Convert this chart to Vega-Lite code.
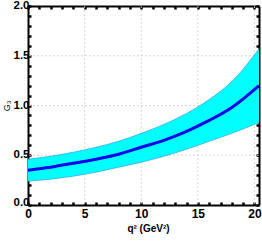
{
  "$schema": "https://vega.github.io/schema/vega-lite/v6.json",
  "autosize": "none",
  "width": 231,
  "height": 199,
  "padding": {"left": 28, "top": 6, "right": 3, "bottom": 40},
  "background": "white",
  "config": {
    "view": {"stroke": null},
    "axis": {"labelFont": "Liberation Sans Narrow, Liberation Sans, Arial", "labelFontWeight": "bold", "labelFontSize": 12, "labelColor": "black", "domainColor": "black", "domainWidth": 2, "tickColor": "black", "tickWidth": 2.5, "tickSize": -3, "grid": false, "titleFont": "Liberation Sans Narrow, Liberation Sans, Arial", "titleColor": "black"}
  },
  "datasets": {
    "band": [
      {"q2": 0, "c": 0.35, "lo": 0.24, "hi": 0.46},
      {"q2": 2, "c": 0.38, "lo": 0.26, "hi": 0.49},
      {"q2": 4, "c": 0.42, "lo": 0.29, "hi": 0.53},
      {"q2": 6, "c": 0.46, "lo": 0.33, "hi": 0.58},
      {"q2": 8, "c": 0.51, "lo": 0.38, "hi": 0.64},
      {"q2": 10, "c": 0.58, "lo": 0.43, "hi": 0.72},
      {"q2": 12, "c": 0.65, "lo": 0.49, "hi": 0.81},
      {"q2": 14, "c": 0.74, "lo": 0.56, "hi": 0.92},
      {"q2": 16, "c": 0.85, "lo": 0.64, "hi": 1.06},
      {"q2": 18, "c": 0.98, "lo": 0.72, "hi": 1.24},
      {"q2": 20.4, "c": 1.2, "lo": 0.83, "hi": 1.57}
    ],
    "gridx": [{"v": 5}, {"v": 10}, {"v": 15}, {"v": 20}],
    "gridy": [{"v": 0.5}, {"v": 1.0}, {"v": 1.5}]
  },
  "resolve": {"axis": {"x": "independent", "y": "independent"}},
  "layer": [
    {
      "data": {"name": "gridx"},
      "mark": {"type": "rule", "color": "#cccccc", "strokeDash": [2, 2], "strokeWidth": 0.8},
      "encoding": {
        "x": {"field": "v", "type": "quantitative", "scale": {"domain": [0, 20.4], "nice": false, "zero": false},
          "axis": {"orient": "bottom", "values": [0,1,2,3,4,5,6,7,8,9,10,11,12,13,14,15,16,17,18,19,20], "labelExpr": "datum.value % 5 == 0 ? datum.label : ''", "labelPadding": 6, "title": "q² (GeV²)", "titleFontSize": 10, "titleFontWeight": "bold", "titlePadding": 4, "titleX": 120, "labelFlush": false, "labelOverlap": false}}
      }
    },
    {
      "data": {"name": "gridy"},
      "mark": {"type": "rule", "color": "#cccccc", "strokeDash": [2, 2], "strokeWidth": 0.8},
      "encoding": {
        "y": {"field": "v", "type": "quantitative", "scale": {"domain": [0, 2], "nice": false},
          "axis": {"orient": "left", "values": [0,0.1,0.2,0.3,0.4,0.5,0.6,0.7,0.8,0.9,1,1.1,1.2,1.3,1.4,1.5,1.6,1.7,1.8,1.9,2], "labelExpr": "(round(datum.value*10) % 5 == 0) ? format(datum.value, '.1f') : ''", "labelPadding": 2, "labelFontSize": 11.5, "labelOffset": {"condition": {"test": "datum.value == 0", "value": -3}, "value": -0.5}, "title": "G₃", "titleFontSize": 9, "titleFontWeight": "normal", "titlePadding": 2, "labelFlush": false, "labelOverlap": false}}
      }
    },
    {
      "data": {"name": "band"},
      "mark": {"type": "area", "color": "#00ffff", "interpolate": "monotone"},
      "encoding": {
        "x": {"field": "q2", "type": "quantitative", "axis": null},
        "y": {"field": "lo", "type": "quantitative", "axis": null},
        "y2": {"field": "hi"}
      }
    },
    {
      "data": {"name": "band"},
      "mark": {"type": "line", "color": "#33aaee", "strokeWidth": 0.8, "interpolate": "monotone"},
      "encoding": {
        "x": {"field": "q2", "type": "quantitative", "axis": null},
        "y": {"field": "lo", "type": "quantitative", "axis": null}
      }
    },
    {
      "data": {"name": "band"},
      "mark": {"type": "line", "color": "#33aaee", "strokeWidth": 0.8, "interpolate": "monotone"},
      "encoding": {
        "x": {"field": "q2", "type": "quantitative", "axis": null},
        "y": {"field": "hi", "type": "quantitative", "axis": null}
      }
    },
    {
      "data": {"name": "band"},
      "mark": {"type": "line", "color": "#0000ee", "strokeWidth": 3, "interpolate": "monotone"},
      "encoding": {
        "x": {"field": "q2", "type": "quantitative",
          "axis": {"orient": "top", "values": [0,1,2,3,4,5,6,7,8,9,10,11,12,13,14,15,16,17,18,19,20], "labels": false, "title": null}},
        "y": {"field": "c", "type": "quantitative",
          "axis": {"orient": "right", "values": [0,0.1,0.2,0.3,0.4,0.5,0.6,0.7,0.8,0.9,1,1.1,1.2,1.3,1.4,1.5,1.6,1.7,1.8,1.9,2], "labels": false, "title": null}}
      }
    }
  ]
}
